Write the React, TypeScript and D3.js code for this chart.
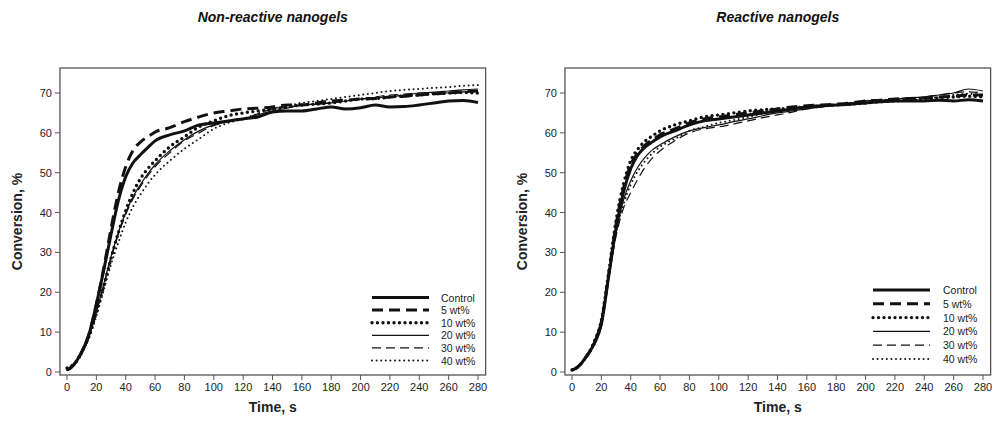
import React from "react";
import * as d3 from "d3";

// time grids (s)
const tLeft = [0, 3, 6, 10, 15, 20, 25, 30, 35, 40, 45, 50, 55, 60, 70, 80, 90, 100, 110, 120, 130, 140, 150, 160, 170, 180, 190, 200, 210, 220, 230, 240, 250, 260, 270, 280];

// Non-reactive nanogels, conversion %
const nrControl = [0.5, 1.2, 2.5, 5, 9.5, 17, 25.5, 34.5, 43, 49, 52.5, 54.5, 56.3, 58, 59.5, 60.5, 62, 62.5, 63, 63.5, 64, 65.2, 65.5, 65.5, 66, 66.5, 66, 66.3, 67, 66.5, 66.6, 67, 67.5, 68, 68.1, 67.6];
const nr5 = [0.5, 1.2, 2.5, 5, 9.5, 17, 26, 36, 45, 51.5, 55.6, 57.7, 59, 60.2, 61.3, 62.8, 64, 65, 65.5, 66, 66.2, 66.5, 67, 67, 67.5, 68, 68.2, 68.5, 68.6, 69, 69.2, 69.5, 69.8, 70, 70.3, 70.5];
const nr10 = [1, 1.5, 2.5, 5, 9, 15, 21.5, 28.5, 35, 40.5, 45, 48.5, 51, 53, 56.5, 59, 61.5, 63, 64.3, 65, 65.5, 66, 66.5, 67, 67.2, 67.5, 68, 68.5, 68.6, 69, 69.3, 69.5, 69.8, 70, 70.1, 70];
const nr20 = [0.5, 1, 2.5, 5, 9, 15, 22, 29, 35, 40, 44, 47, 49.7, 52, 55.5, 58.3, 60.5, 62, 62.8, 63.5, 64.5, 65.5, 66.2, 67, 67.2, 67.5, 68, 68.5, 68.8, 69, 69.5, 70, 70.2, 70.5, 70.8, 71];
const nr30 = [0.5, 1, 2.5, 5, 9, 15, 21.5, 28.5, 34.5, 39.5, 43.5, 46.5, 49.2, 51.5, 55, 58, 60, 61.8, 62.8, 63.5, 64.8, 66, 66.5, 67, 67.2, 67.5, 68, 68.5, 69, 69.5, 69.7, 70, 70, 70, 70.3, 70.5];
const nr40 = [0.5, 1, 2.3, 4.5, 8.5, 14, 20.5, 27, 32.5, 37.5, 41.5, 44.5, 47.2, 49.5, 53, 56, 58.5, 61, 62.5, 63.5, 64.8, 66, 66.8, 67.5, 68, 68.5, 69, 69.5, 70, 70.5, 70.8, 71, 71.3, 71.5, 71.8, 72];

// Reactive nanogels, conversion %
const rControl = [0.5, 1, 2, 4, 7, 12, 24, 36, 45, 51, 54.5, 56.5, 57.8, 59, 60.5, 62, 63, 63.5, 64, 64.5, 65, 65.5, 66, 66.5, 66.8, 67, 67.2, 67.5, 67.8, 68, 68, 68, 68.2, 68, 68.3, 68];
const r5 = [0.5, 1, 2, 4, 7, 12.5, 24.5, 37, 46, 52, 55, 57, 58.3, 59.5, 61, 62.5, 63.5, 64, 64.5, 65, 65.5, 66, 66.5, 66.8, 67, 67.2, 67.5, 68, 68.2, 68.5, 68.6, 68.8, 69, 69.2, 69.5, 69.5];
const r10 = [0.5, 1, 2, 4, 7.5, 13, 25, 38, 47, 53, 56, 58, 59.3, 60.5, 62, 63, 64, 64.5, 65, 65.5, 65.8, 66, 66.2, 66.5, 66.8, 67, 67.2, 67.5, 67.8, 68, 68.2, 68.5, 68.8, 69, 69.2, 69];
const r20 = [0.5, 1, 2, 4, 7.5, 13, 24, 35, 43, 48, 51.5, 54, 55.8, 57, 59, 60.5, 61.3, 62, 62.8, 63.5, 64.3, 65, 65.5, 66, 66.5, 67, 67.5, 68, 68.2, 68.5, 68.8, 69, 69.5, 70, 71, 70.5];
const r30 = [0.5, 1, 2, 4, 7.5, 13, 23.5, 34, 41, 45, 48.5, 51.5, 53.8, 55.5, 58, 60, 61, 61.5, 62.2, 63, 63.8, 64.5, 65.2, 66, 66.5, 67, 67.5, 68, 68.2, 68.5, 68.8, 69, 69.5, 70, 70.3, 70];
const r40 = [0.5, 1, 2, 4, 7.5, 13, 24, 35, 42, 47, 50.5, 53, 55, 56.5, 58.5, 60.5, 61.5, 62.5, 63.2, 64, 64.8, 65.5, 66, 66.5, 66.8, 67, 67.2, 67.5, 67.8, 68, 68.2, 68.5, 69, 69.5, 69.8, 69.5];

const legendNames = ["Control", "5 wt%", "10 wt%", "20 wt%", "30 wt%", "40 wt%"];
const xTicks = d3.range(0, 281, 20);
const yTicks = [0, 10, 20, 30, 40, 50, 60, 70];

// line styles per series
const styles = [
  { w: 3, dash: null, cap: "butt" },
  { w: 3, dash: "11,6", cap: "butt" },
  { w: 3.4, dash: "0,5.5", cap: "round" },
  { w: 1.2, dash: null, cap: "butt" },
  { w: 1.2, dash: "9,5", cap: "butt" },
  { w: 2, dash: "0,4.6", cap: "round" },
];

const font = "Arial, 'Liberation Sans', sans-serif";

function Panel({ title, series, x0, x1, legendX, legendX2, legendTextX, legendY, legendStep }) {
  const top = 68;
  const bottom = 375;
  const x = d3.scaleLinear().domain([0, 280]).range([x0, x1]);
  const y = d3.scaleLinear().domain([0, 70]).range([372, 93]);
  const frameL = x(-4.8);
  const frameR = x(285.2);
  const line = d3
    .line<number>()
    .x((d, i) => x(tLeft[i]))
    .y((d) => y(d))
    .curve(d3.curveMonotoneX);
  const cx = (frameL + frameR) / 2;
  return (
    <g>
      <text x={cx} y={22} textAnchor="middle" fontFamily="'Liberation Sans Narrow', Arial, sans-serif" fontWeight="bold" fontStyle="italic" fontSize={14} fill="#111">
        {title}
      </text>
      <rect x={frameL} y={top} width={frameR - frameL} height={bottom - top} fill="none" stroke="#555" strokeWidth={1.3} />
      {xTicks.map((t) => (
        <g key={"x" + t}>
          <line x1={x(t)} x2={x(t)} y1={bottom} y2={bottom + 5} stroke="#555" strokeWidth={1} />
          <text x={x(t)} y={bottom + 16} textAnchor="middle" fontFamily={font} fontSize={11} fill="#222">
            {t}
          </text>
        </g>
      ))}
      {yTicks.map((t) => (
        <g key={"y" + t}>
          <line x1={frameL - 5} x2={frameL} y1={y(t)} y2={y(t)} stroke="#555" strokeWidth={1} />
          <text x={frameL - 8} y={y(t) + 4} textAnchor="end" fontFamily={font} fontSize={11} fill="#222">
            {t}
          </text>
        </g>
      ))}
      <text x={cx} y={412} textAnchor="middle" fontFamily={font} fontWeight="bold" fontSize={14} fill="#222">
        Time, s
      </text>
      <text transform={`translate(${frameL - 38},${(top + bottom) / 2}) rotate(-90)`} textAnchor="middle" fontFamily={font} fontWeight="bold" fontSize={14} fill="#222">
        Conversion, %
      </text>
      {series.map((s, i) => (
        <path
          key={"s" + i}
          d={line(s) || ""}
          fill="none"
          stroke="#111"
          strokeWidth={styles[i].w}
          strokeDasharray={styles[i].dash || undefined}
          strokeLinecap={styles[i].cap as any}
        />
      ))}
      {legendNames.map((n, i) => (
        <g key={"l" + i}>
          <line
            x1={legendX}
            x2={legendX2}
            y1={legendY + i * legendStep}
            y2={legendY + i * legendStep}
            stroke="#111"
            strokeWidth={styles[i].w}
            strokeDasharray={styles[i].dash || undefined}
            strokeLinecap={styles[i].cap as any}
          />
          <text x={legendTextX} y={legendY + i * legendStep + 4} fontFamily={font} fontSize={10.5} fill="#222">
            {n}
          </text>
        </g>
      ))}
    </g>
  );
}

export default function App() {
  return (
    <svg width={995} height={428} style={{ position: "absolute", left: 0, top: 0, background: "#fff" }}>
      <Panel
        title="Non-reactive nanogels"
        series={[nrControl, nr5, nr10, nr20, nr30, nr40]}
        x0={67}
        x1={478}
        legendX={372}
        legendX2={429}
        legendTextX={441}
        legendY={297.5}
        legendStep={12.6}
      />
      <Panel
        title="Reactive nanogels"
        series={[rControl, r5, r10, r20, r30, r40]}
        x0={572}
        x1={983}
        legendX={873}
        legendX2={930}
        legendTextX={943}
        legendY={290}
        legendStep={13.8}
      />
    </svg>
  );
}
